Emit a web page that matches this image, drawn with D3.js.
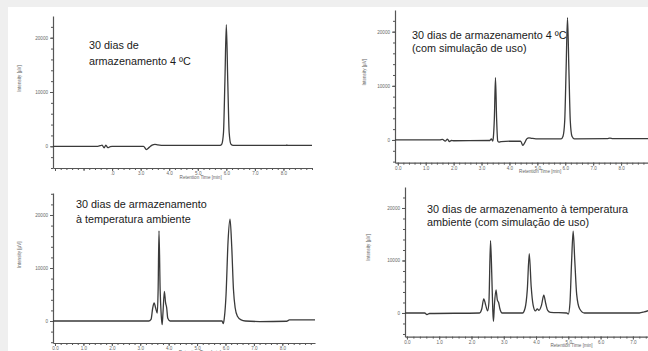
<!DOCTYPE html>
<html>
<head>
<meta charset="utf-8">
<script src="https://cdn.jsdelivr.net/npm/d3@7/dist/d3.min.js"></script>
<style>
  html, body { margin: 0; padding: 0; background: #efefef; }
  svg { display: block; }
  .tick text { fill: #666; font-family: 'Liberation Sans', Arial, sans-serif; }
  .axis path, .axis line { stroke: #555; }
</style>
</head>
<body>
<svg id="chart" width="648" height="351"></svg>
<script>
// chromatogram traces: [retention time (min), intensity (µV)]
const trace1 = [
  [-0.07, 0], [1.5, 0], [1.58, 100], [1.65, 200], [1.72, -300], [1.78, 200], [1.85, -250],
  [1.92, -100], [2.0, 0], [3.1, 0], [3.2, -600], [3.3, -200], [3.4, 200], [3.5, 350],
  [3.6, 250], [3.85, 150], [5.78, 150], [5.84, 400], [5.9, 2500], [5.95, 12000],
  [6.0, 22400], [6.05, 12000], [6.1, 2500], [6.16, 400], [6.24, 150], [8.1, 150],
  [8.12, 250], [8.14, 150], [9.0, 150]
];
const trace2 = [
  [-0.1, 0], [1.5, 0], [1.6, 100], [1.7, -200], [1.78, 150], [1.85, -300], [1.92, -100],
  [2.0, -150], [3.3, -100], [3.35, 200], [3.4, -200], [3.42, 300], [3.46, 4000],
  [3.5, 11500], [3.54, 4000], [3.58, -200], [3.62, -400], [3.7, -300], [4.4, -200],
  [4.48, -1000], [4.55, -500], [4.62, 200], [4.7, 400], [4.8, 300], [4.95, 200],
  [5.85, 200], [5.92, 700], [5.98, 3500], [6.03, 13000], [6.08, 22600], [6.13, 13000],
  [6.18, 3500], [6.24, 700], [6.33, 200], [7.5, 250], [7.6, 350], [7.7, 250], [9.0, 250]
];
const trace3 = [
  [-0.07, 0], [3.3, 0], [3.38, 300], [3.44, 2500], [3.49, 3400], [3.54, 2500], [3.6, 1500],
  [3.63, 6000], [3.66, 17000], [3.7, 6000], [3.74, 1000], [3.77, -700], [3.8, 1500],
  [3.85, 5600], [3.89, 3500], [3.93, 2500], [3.97, 500], [4.05, 0], [5.88, 0],
  [5.92, -500], [5.96, 600], [6.02, 5000], [6.09, 15000], [6.16, 19200], [6.22, 14000],
  [6.28, 6000], [6.34, 2500], [6.42, 900], [6.55, 200], [6.7, 0], [7.2, -100], [8.15, -50],
  [8.25, 200], [9.15, 200]
];
const trace4 = [
  [-0.06, 0], [0.55, 0], [0.62, -300], [0.7, -100], [2.25, 0], [2.32, 800], [2.38, 2700],
  [2.44, 1500], [2.5, 400], [2.54, 2000], [2.59, 13800], [2.63, 7000], [2.66, 500],
  [2.68, -1600], [2.71, 1500], [2.76, 4400], [2.8, 2500], [2.84, 2000], [2.88, 800],
  [2.95, 0], [3.58, 0], [3.66, 900], [3.73, 4500], [3.79, 11300], [3.85, 5000],
  [3.91, 1500], [3.98, 400], [4.04, 800], [4.09, 500], [4.17, 1500], [4.24, 3400],
  [4.3, 1800], [4.36, 500], [4.45, 100], [4.95, 0], [5.0, -200], [5.05, 1800],
  [5.1, 9500], [5.15, 15600], [5.2, 10000], [5.26, 3500], [5.35, 800], [5.5, 0],
  [7.2, 0], [7.35, 200], [7.5, 500]
];

const yTickValues = [0, 10000, 20000];
const xTickValues = [0, 1, 2, 3, 4, 5, 6, 7, 8];
const xLabelsFull = ['0.0', '1.0', '2.0', '3.0', '4.0', '5.0', '6.0', '7.0', '8.0'];
const xLabelsFirst = ['', '', '.0', '3.0', '4.0', '5.0', '6.0', '7.0', '8.0'];

const titles1 = ['30 dias de', 'armazenamento 4 ºC'];
const titles2 = ['30 dias de armazenamento 4 ºC', '(com simulação de uso)'];
const titles3 = ['30 dias de armazenamento', 'à temperatura ambiente'];
const titles4 = ['30 dias de armazenamento à temperatura', 'ambiente (com simulação de uso)'];

const xTitle = 'Retention Time [min]';
const yTitle = 'Intensity [µV]';

let svg = d3.select('#chart');
svg.append('rect')
  .attr('x', 8).attr('y', 7)
  .attr('width', 640).attr('height', 344)
  .attr('fill', '#fff');

let panels = [
  { data: trace1, labels: xLabelsFirst, titles: titles1,
    xDom: [-0.07, 9.0], xRange: [53, 312], yDom: [-4000, 24000], yRange: [168, 16],
    titleX: 89, titleY: [49, 65], yLabelX: 21 },
  { data: trace2, labels: xLabelsFull, titles: titles2,
    xDom: [-0.1, 9.0], xRange: [395, 649], yDom: [-4200, 24000], yRange: [162.7, 10],
    titleX: 412, titleY: [39, 52], yLabelX: 366 },
  { data: trace3, labels: xLabelsFull, titles: titles3,
    xDom: [-0.07, 9.15], xRange: [53, 315], yDom: [-4150, 24150], yRange: [343, 193],
    titleX: 76, titleY: [208, 223], yLabelX: 21 },
  { data: trace4, labels: xLabelsFull, titles: titles4,
    xDom: [-0.06, 7.5], xRange: [405, 649], yDom: [-4500, 24000], yRange: [336.6, 187],
    titleX: 427, titleY: [212.5, 226], yLabelX: 370 }
];

panels.forEach(p => drawPanel(p));

function drawPanel(p) {
  let g = svg.append('g');
  let x = d3.scaleLinear().domain(p.xDom).range(p.xRange);
  let y = d3.scaleLinear().domain(p.yDom).range(p.yRange);

  // minor ticks
  g.append('g')
    .classed('axis', true)
    .attr('transform', `translate(${p.xRange[0]},0)`)
    .call(d3.axisLeft(y).tickValues(d3.range(-4000, p.yDom[1], 2000)).tickSize(2).tickSizeOuter(0).tickFormat(''))
    .call(a => a.select('.domain').remove());
  g.append('g')
    .classed('axis', true)
    .attr('transform', `translate(0,${p.yRange[0]})`)
    .call(d3.axisBottom(x).tickValues(d3.range(0, p.xDom[1] + 0.01, 0.2)).tickSize(2).tickSizeOuter(0).tickFormat(''))
    .call(a => a.select('.domain').remove());

  // major axes
  let yAxis = g.append('g')
    .classed('axis', true)
    .attr('transform', `translate(${p.xRange[0]},0)`)
    .call(d3.axisLeft(y).tickValues(yTickValues).tickSize(3).tickSizeOuter(0).tickPadding(2).tickFormat(d3.format('d')));
  yAxis.selectAll('text').style('font-size', '4.6px');

  let xAxis = g.append('g')
    .classed('axis', true)
    .attr('transform', `translate(0,${p.yRange[0]})`)
    .call(d3.axisBottom(x).tickValues(xTickValues).tickSize(3).tickSizeOuter(0).tickPadding(1)
      .tickFormat((d, i) => p.labels[i]));
  xAxis.selectAll('text').style('font-size', '4.6px');
  g.selectAll('.axis .domain').attr('stroke', '#444').attr('stroke-width', 1.2);

  g.append('text')
    .attr('x', x(5.1))
    .attr('y', p.yRange[0] + 10.5)
    .attr('text-anchor', 'middle')
    .style('font-family', "'Liberation Sans', Arial, sans-serif")
    .style('font-size', '4.6px')
    .attr('fill', '#666')
    .text(xTitle);

  g.append('text')
    .attr('transform', `translate(${p.yLabelX},${y(12500)}) rotate(-90)`)
    .attr('text-anchor', 'middle')
    .style('font-family', "'Liberation Sans', Arial, sans-serif")
    .style('font-size', '4.6px')
    .attr('fill', '#666')
    .text(yTitle);

  let line = d3.line()
    .x(d => x(d[0]))
    .y(d => y(d[1]))
    .curve(d3.curveMonotoneX);

  g.append('path')
    .datum(p.data)
    .attr('d', line)
    .attr('fill', 'none')
    .attr('stroke', '#3a3a3a')
    .attr('stroke-width', 1.3)
    .attr('stroke-linejoin', 'round');

  g.selectAll('.note')
    .data(p.titles)
    .enter()
    .append('text')
    .classed('note', true)
    .attr('x', p.titleX)
    .attr('y', (d, i) => p.titleY[i])
    .style('font-family', "'Liberation Sans', Arial, sans-serif")
    .style('font-size', '10.8px')
    .attr('fill', '#1a1a1a')
    .text(d => d);
}
</script>
</body>
</html>
